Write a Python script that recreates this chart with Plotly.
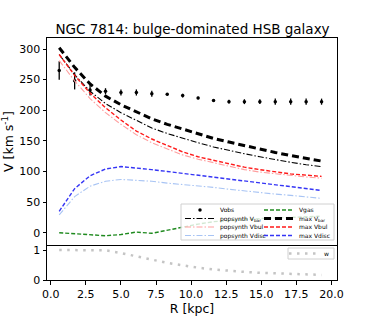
import plotly.graph_objects as go
from plotly.subplots import make_subplots

# radius grid shared by all curves [kpc]
R = [0.6, 1.7, 2.8, 3.9, 5.0, 6.1, 7.2, 8.3, 9.4, 10.5, 11.6, 12.7, 13.8, 14.9, 16.0, 17.1, 18.2, 19.3]

v_obs = [265, 248, 233, 231, 229, 229, 227, 226, 224, 220, 216, 214, 214, 214, 214, 214, 214, 214]
v_obs_err = [15, 14, 9, 5, 5, 5, 5, 2, 3, 2, 2, 3, 4, 4, 5, 5, 5, 5]

v_gas = [0, -2, -4, -5, -3, 1, -1, 4, 10, 14, 18, 20, 21, 23, 24, 25, 26, 27]

v_bar_pop = [291, 258, 231, 211, 196, 183, 171, 162, 154, 147, 140, 134, 129, 124, 119, 115, 111, 108]
v_bar_max = [302, 270, 243, 223, 209, 197, 186, 177, 169, 161, 154, 148, 142, 136, 131, 126, 121, 117]

v_bul_pop = [281, 248, 219, 196, 177, 160, 147, 137, 127, 120, 114, 108, 103, 99, 96, 93, 91, 89]
v_bul_max = [291, 257, 228, 204, 184, 166, 153, 142, 132, 124, 118, 112, 107, 103, 99, 96, 94, 92]

v_disc_pop = [29, 59, 76, 84, 87, 86, 84, 81, 79, 76, 74, 71, 68, 66, 63, 61, 58, 56]
v_disc_max = [35, 72, 93, 104, 108, 106, 103, 100, 97, 94, 91, 88, 84, 81, 78, 75, 72, 69]

w = [1.0, 1.0, 1.0, 0.99, 0.9, 0.8, 0.68, 0.57, 0.48, 0.41, 0.35, 0.30, 0.27, 0.24, 0.22, 0.20, 0.19, 0.17]

FONT = "DejaVu Sans"
W, H = 374, 320
ML, MR, MT, MB = 47, 37, 38, 40
PW, PH = W - ML - MR, H - MT - MB

fig = make_subplots(rows=2, cols=1, shared_xaxes=True, vertical_spacing=0,
                    row_heights=[207, 35])


def px_x(px):
    return (px - ML) / PW


def px_y(py):
    return (H - MB - py) / PH


def legend_at(px, py):
    # one legend per entry so the rows can sit closer than plotly's minimum item height
    return dict(x=px_x(px), y=px_y(py), xanchor="left", yanchor="middle",
                bgcolor="rgba(0,0,0,0)", borderwidth=0, itemwidth=30,
                font=dict(size=6, family=FONT, color="black"))


fig.add_trace(go.Scatter(
    x=R, y=v_obs, mode="markers", name="Vobs", showlegend=True,
    marker=dict(color="black", size=3.5),
    error_y=dict(type="data", array=v_obs_err, color="black", thickness=1.3, width=0),
    legend="legend"), row=1, col=1)

fig.add_trace(go.Scatter(
    x=R, y=v_gas, mode="lines", name="Vgas",
    line=dict(color="#1f8a1f", width=1.4, dash="4px,2px"),
    legend="legend2"), row=1, col=1)

fig.add_trace(go.Scatter(
    x=R, y=v_bar_pop, mode="lines", name="popsynth V<sub>bar</sub>",
    line=dict(color="black", width=1.1, dash="6px,2px,1.5px,2px"),
    legend="legend3"), row=1, col=1)

fig.add_trace(go.Scatter(
    x=R, y=v_bar_max, mode="lines", name="max V<sub>bar</sub>",
    line=dict(color="black", width=3, dash="7px,4px"),
    legend="legend4"), row=1, col=1)

fig.add_trace(go.Scatter(
    x=R, y=v_bul_pop, mode="lines", name="popsynth Vbul",
    line=dict(color="#ffa0a0", width=1.1, dash="6px,2px,1.5px,2px"),
    legend="legend5"), row=1, col=1)

fig.add_trace(go.Scatter(
    x=R, y=v_bul_max, mode="lines", name="max Vbul",
    line=dict(color="#ff1a1a", width=1.4, dash="4px,2px"),
    legend="legend6"), row=1, col=1)

fig.add_trace(go.Scatter(
    x=R, y=v_disc_pop, mode="lines", name="popsynth Vdisc",
    line=dict(color="#a8c4f4", width=1.1, dash="6px,2px,1.5px,2px"),
    legend="legend7"), row=1, col=1)

fig.add_trace(go.Scatter(
    x=R, y=v_disc_max, mode="lines", name="max Vdisc",
    line=dict(color="#3535f5", width=1.4, dash="4px,2px"),
    legend="legend8"), row=1, col=1)

fig.add_trace(go.Scatter(
    x=R, y=w, mode="lines", name="w",
    line=dict(color="#c4c4c4", width=2.5, dash="2.5px,5.5px"),
    legend="legend9"), row=2, col=1)

# legend frames
fig.add_shape(type="rect", xref="paper", yref="paper",
              x0=px_x(181), x1=px_x(334), y0=px_y(240), y1=px_y(204),
              line=dict(color="#d0d0d0", width=1), fillcolor="rgba(255,255,255,0.8)",
              layer="above")
fig.add_shape(type="rect", xref="paper", yref="paper",
              x0=px_x(288), x1=px_x(334), y0=px_y(259), y1=px_y(248),
              line=dict(color="#d0d0d0", width=1), fillcolor="rgba(255,255,255,0.8)",
              layer="above")

axis_common = dict(showline=True, linecolor="black", linewidth=1, mirror=True,
                   showgrid=False, zeroline=False, automargin=False,
                   tickfont=dict(size=11, family=FONT, color="black"),
                   ticks="outside", ticklen=3.5, tickcolor="black", tickwidth=1)

fig.update_xaxes(range=[-0.27, 20.4], **axis_common)
fig.update_xaxes(ticks="", showticklabels=False, row=1, col=1)
fig.update_xaxes(tick0=0, dtick=2.5, tickformat=".1f", mirror=False,
                 title=dict(text="R [kpc]", font=dict(size=12.5, family=FONT, color="black"),
                            standoff=2),
                 row=2, col=1)

fig.update_yaxes(**axis_common)
fig.update_yaxes(range=[-20.1, 318], tick0=0, dtick=50,
                 title=dict(text="V [km s<sup>-1</sup>]", font=dict(size=12.5, family=FONT, color="black"),
                            standoff=4),
                 row=1, col=1)
fig.update_yaxes(range=[0, 1.167], tickvals=[0, 1], row=2, col=1)

fig.update_layout(
    template="none",
    width=W, height=H,
    margin=dict(l=ML, r=MR, t=MT, b=MB, autoexpand=False),
    paper_bgcolor="white", plot_bgcolor="white",
    font=dict(family=FONT, color="black"),
    showlegend=True,
    title=dict(text="NGC 7814: bulge-dominated HSB galaxy", x=(ML + 145.5) / W,
               xanchor="center", y=1 - 29 / H, yanchor="middle",
               font=dict(size=13.5, family=FONT, color="black")),
    legend=legend_at(180, 210),
    legend2=legend_at(259, 210),
    legend3=legend_at(180, 218.5),
    legend4=legend_at(259, 218.5),
    legend5=legend_at(180, 227),
    legend6=legend_at(259, 227),
    legend7=legend_at(180, 235.5),
    legend8=legend_at(259, 235.5),
    legend9=legend_at(284, 253.5),
)

# drop the page's default body margin so the figure sits at the window origin
fig.write_html("out.html", config={"displayModeBar": False},
               post_script="document.body.style.margin='0';")
